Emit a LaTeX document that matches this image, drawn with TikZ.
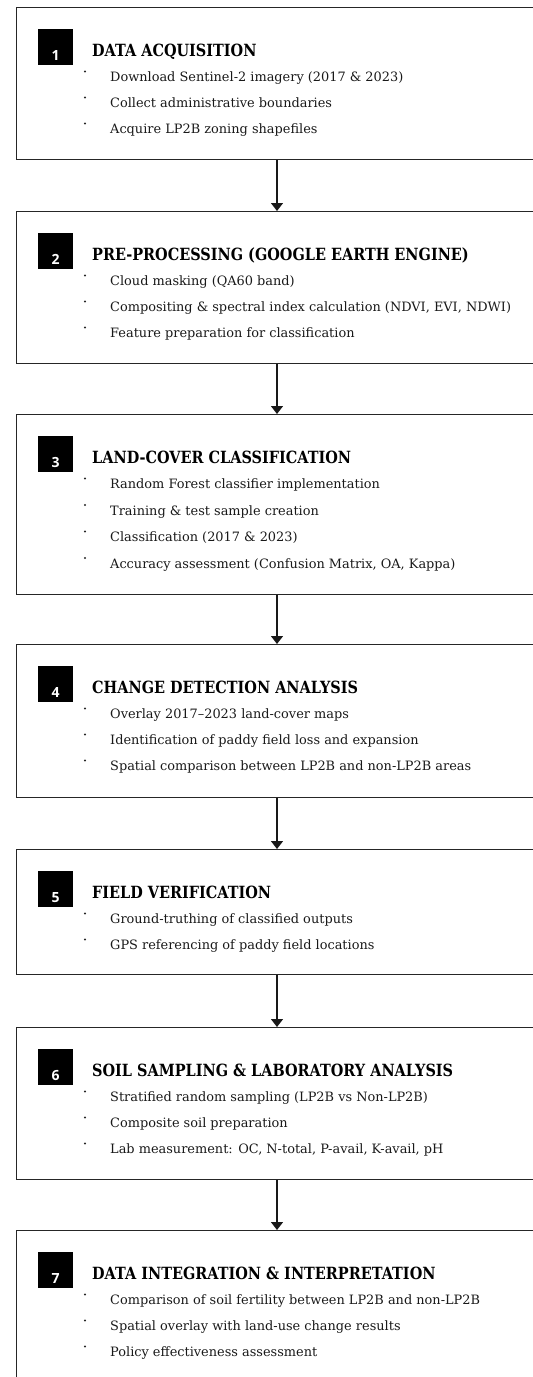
\documentclass[tikz,border=0pt]{standalone}
\usepackage{fontspec}
\setmainfont{DejaVu Serif}
\newfontfamily\titlefont{DejaVu Serif}[FakeStretch=0.86]
\newfontfamily\numfont{Open Sans}
\usepackage{tikz}
\usetikzlibrary{arrows.meta, positioning, calc}

\begin{document}
\begin{tikzpicture}[x=1pt, y=-1pt,
  stagebox/.style={draw=black!85, line width=1.4pt, anchor=north west, minimum width=560pt, inner sep=0pt},
  stagenum/.style={fill=black, text=white, font=\numfont\bfseries\fontsize{14}{14}\selectfont, anchor=north west,
    minimum width=35pt, inner xsep=0pt, inner ysep=2pt, text height=29pt, text depth=3pt},
  stagetitle/.style={anchor=base west, inner sep=0pt, text=black, font=\titlefont\bfseries\fontsize{16.8}{18}\selectfont},
  stageitem/.style={anchor=base west, inner sep=0pt, text=black!90, font=\fontsize{12.9}{14}\selectfont},
  flow/.style={-{Triangle[width=12pt, length=8pt]}, line width=1.4pt, draw=black!90}]
  \clip (0,0) rectangle (533,1377);
  \coordinate (spine) at (277,0);
  % stage frames
  \foreach \k/\t/\h in {1/7/152, 2/211/152, 3/414/180, 4/644/153, 5/849/125, 6/1027/152, 7/1230/170}
    \node[stagebox, minimum height=\h pt] (box\k) at (15.5,\t) {};
  % number squares and headings
  \foreach \k/\title in {1/DATA ACQUISITION, 2/PRE-PROCESSING (GOOGLE EARTH ENGINE),
      3/LAND-COVER CLASSIFICATION, 4/CHANGE DETECTION ANALYSIS, 5/FIELD VERIFICATION,
      6/SOIL SAMPLING \& LABORATORY ANALYSIS, 7/DATA INTEGRATION \& INTERPRETATION}
  {
    \node[stagenum] (num\k) at ($(box\k.north west)+(22.5,22)$) {\k};
    \node[stagetitle] (title\k) at ($(box\k.north west)+(76.5,49)$) {\title};
  }
  % bullet items
  \foreach \line [count=\i from 0] in {Download Sentinel-2 imagery (2017 \& 2023),
      Collect administrative boundaries, Acquire LP2B zoning shapefiles}
  {
    \node[stageitem] (item1-\i) at ($(box1.north west)+(94.5,74.5+26*\i)$) {\line};
    \fill[black!85] ($(item1-\i.base west)+(-25,-10)$) circle (1.1pt);
  }
  \foreach \line [count=\i from 0] in {Cloud masking (QA60 band),
      {Compositing \& spectral index calculation (NDVI, EVI, NDWI)}, Feature preparation for classification}
  {
    \node[stageitem] (item2-\i) at ($(box2.north west)+(94.5,74.5+26*\i)$) {\line};
    \fill[black!85] ($(item2-\i.base west)+(-25,-10)$) circle (1.1pt);
  }
  \foreach \line [count=\i from 0] in {Random Forest classifier implementation,
      Training \& test sample creation, Classification (2017 \& 2023),
      {Accuracy assessment (Confusion Matrix, OA, Kappa)}}
  {
    \node[stageitem] (item3-\i) at ($(box3.north west)+(94.5,74.5+26.5*\i)$) {\line};
    \fill[black!85] ($(item3-\i.base west)+(-25,-10)$) circle (1.1pt);
  }
  \foreach \line [count=\i from 0] in {Overlay 2017--2023 land-cover maps,
      Identification of paddy field loss and expansion, Spatial comparison between LP2B and non-LP2B areas}
  {
    \node[stageitem] (item4-\i) at ($(box4.north west)+(94.5,74.5+26*\i)$) {\line};
    \fill[black!85] ($(item4-\i.base west)+(-25,-10)$) circle (1.1pt);
  }
  \foreach \line [count=\i from 0] in {Ground-truthing of classified outputs,
      GPS referencing of paddy field locations}
  {
    \node[stageitem] (item5-\i) at ($(box5.north west)+(94.5,74.5+26*\i)$) {\line};
    \fill[black!85] ($(item5-\i.base west)+(-25,-10)$) circle (1.1pt);
  }
  \foreach \line [count=\i from 0] in {Stratified random sampling (LP2B vs Non-LP2B),
      Composite soil preparation, {Lab measurement: OC, N-total, P-avail, K-avail, pH}}
  {
    \node[stageitem] (item6-\i) at ($(box6.north west)+(94.5,74.5+26*\i)$) {\line};
    \fill[black!85] ($(item6-\i.base west)+(-25,-10)$) circle (1.1pt);
  }
  \foreach \line [count=\i from 0] in {Comparison of soil fertility between LP2B and non-LP2B,
      Spatial overlay with land-use change results, Policy effectiveness assessment}
  {
    \node[stageitem] (item7-\i) at ($(box7.north west)+(94.5,74.5+26*\i)$) {\line};
    \fill[black!85] ($(item7-\i.base west)+(-25,-10)$) circle (1.1pt);
  }
  % connectors
  \foreach \k [evaluate=\k as \m using int(\k+1)] in {1,...,6}
    \draw[flow] (box\k.south -| spine) -- (box\m.north -| spine);
\end{tikzpicture}
\end{document}
